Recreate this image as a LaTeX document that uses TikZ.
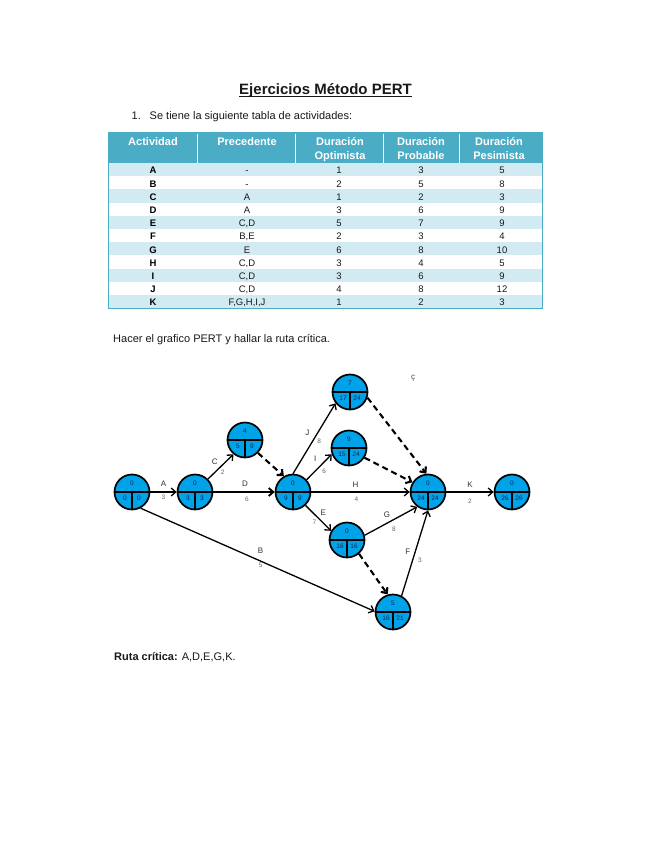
\documentclass[tikz,border=0pt]{standalone}
\usepackage{fontspec}
\setmainfont{Liberation Sans}
\usetikzlibrary{arrows.meta}
\definecolor{hdr}{RGB}{75,172,198}
\definecolor{stripe}{RGB}{210,234,241}
\definecolor{nodeblue}{RGB}{0,162,232}
\definecolor{ink}{RGB}{25,25,25}
\definecolor{ntxt}{RGB}{20,35,80}
\newcommand\PertNode[6]{%
  \node[pert] (#1) at (#2,#3) {};
  \draw[pertdiv] (#1.west) -- (#1.east) (#1.center) -- (#1.south);
  \node[pnum] (#1-t) at ([shift={(0,-9)}]#1.center) {#4};
  \node[pnum] (#1-l) at ([shift={(-7,6.5)}]#1.center) {#5};
  \node[pnum] (#1-r) at ([shift={(7,6.5)}]#1.center) {#6};
}
\tikzset{
  pert/.style={circle, draw=black, line width=1.7pt, fill=nodeblue, minimum size=35pt, inner sep=0pt},
  pertdiv/.style={line width=1.5pt},
  pnum/.style={font=\fontsize{6.5}{6.5}\selectfont, text=ntxt, inner sep=0pt},
  act/.style={-{Straight Barb[length=4.5pt,width=8pt]}, line width=1.3pt},
  dummy/.style={act, line width=2.1pt, dash pattern=on 6pt off 4pt},
  elab/.style={font=\fontsize{8}{8}\selectfont, text=black!80, inner sep=0pt},
  enum/.style={font=\fontsize{6.5}{6.5}\selectfont, text=black!60, inner sep=0pt},
  txt/.style={anchor=base west, inner sep=0pt, text=ink, font=\fontsize{11}{11}\selectfont},
  hcell/.style={anchor=base, inner sep=0pt, text=white, font=\fontsize{11}{11}\selectfont\bfseries},
  cell/.style={anchor=base, inner sep=0pt, text=ink, font=\fontsize{9.5}{9.5}\selectfont},
  cellb/.style={cell, font=\fontsize{9.5}{9.5}\selectfont\bfseries, text=black},
}
\begin{document}
\begin{tikzpicture}[x=1pt,y=-1pt]
\fill[white] (0,0) rectangle (655,848);
\useasboundingbox (0,0) rectangle (655,848);

% title
\node[anchor=base, inner sep=0pt, text=ink, font=\fontsize{15}{15}\selectfont\bfseries] (title) at (325.5,94.5) {Ejercicios Método PERT};
\draw[line width=0.9pt, ink] ([yshift=-1.8pt]title.base west) -- ([yshift=-1.8pt]title.base east);

\node[txt] (num1) at (131.5,120) {1.};
\node[txt] (intro) at (149.5,120) {Se tiene la siguiente tabla de actividades:};

% table
\fill[hdr] (108,133) rectangle (542,163);
\foreach \k in {0,2,...,10} {
  \fill[stripe] (108,{163+13.2*\k}) rectangle (542,{163+13.2*(\k+1)});
}
\foreach \xx in {197,295,383,459} {
  \draw[white, line width=1pt] (\xx,133) -- (\xx,163);
}
\draw[hdr, line width=1pt] (108,133) rectangle (542,308.2);

\node[hcell] (h1) at (153,146) {Actividad};
\node[hcell] (h2) at (247,146) {Precedente};
\node[hcell] (h3a) at (340,146) {Duración};
\node[hcell] (h3b) at (340,159) {Optimista};
\node[hcell] (h4a) at (421,146) {Duración};
\node[hcell] (h4b) at (421,159) {Probable};
\node[hcell] (h5a) at (499,146) {Duración};
\node[hcell] (h5b) at (499,159) {Pesimista};

\foreach \a/\p/\o/\m/\s [count=\i from 0] in {A/-/1/3/5, B/-/2/5/8, C/A/1/2/3, D/A/3/6/9, E/{C,D}/5/7/9, F/{B,E}/2/3/4, G/E/6/8/10, H/{C,D}/3/4/5, I/{C,D}/3/6/9, J/{C,D}/4/8/12, K/{F,G,H,I,J}/1/2/3} {
  \pgfmathsetmacro\yb{163+13.2*\i+10.8}
  \node[cellb] (ca\i) at (153,\yb) {\a};
  \node[cell] (cp\i) at (247,\yb) {\p};
  \node[cell] (co\i) at (339,\yb) {\o};
  \node[cell] (cm\i) at (421,\yb) {\m};
  \node[cell] (cs\i) at (502,\yb) {\s};
}

\node[txt] (hacer) at (113,342.5) {Hacer el grafico PERT y hallar la ruta crítica.};

% PERT nodes
\PertNode{n1}{132}{492}{0}{0}{0}
\PertNode{n2}{195}{492}{0}{3}{3}
\PertNode{n3}{293}{492}{0}{9}{9}
\PertNode{n4}{245}{440}{4}{5}{9}
\PertNode{n7}{350}{392}{7}{17}{24}
\PertNode{n9}{349}{448}{9}{15}{24}
\PertNode{n8}{428}{492}{0}{24}{24}
\PertNode{n10}{512}{492}{0}{26}{26}
\PertNode{n6}{347}{540}{0}{16}{16}
\PertNode{n5}{393}{612}{5}{16}{21}

% activities
\draw[act] (n1.east) -- node[elab, midway, shift={(0,-8)}] (lA) {A} node[enum, midway, shift={(0,5)}] (dA) {3} (n2.west);
\draw[act] (n2.45) -- node[elab, midway, shift={(-6,-5)}] (lC) {C} node[enum, midway, shift={(2,6)}] (dC) {2} (n4.231);
\draw[act, line width=1.9pt] (n2.east) -- node[elab, midway, shift={(1,-8)}] (lD) {D} node[enum, midway, shift={(3,7)}] (dD) {6} (n3.west);
\draw[act] (n3.90) -- node[elab, midway, shift={(-7,-6)}] (lJ) {J} node[enum, midway, shift={(5,3)}] (dJ) {8} (n7.218);
\draw[act] (n3.42) -- node[elab, midway, shift={(-4,-8)}] (lI) {I} node[enum, midway, shift={(5,4)}] (dI) {6} (n9.200);
\draw[act] (n3.east) -- node[elab, midway, shift={(-5,-7)}] (lH) {H} node[enum, midway, shift={(-4,7)}] (dH) {4} (n8.west);
\draw[act] (n3.-47) -- node[elab, midway, shift={(5,-5)}] (lE) {E} node[enum, midway, shift={(-4,4)}] (dE) {7} (n6.150);
\draw[act] (n6.15) -- node[elab, midway, shift={(-4,-6)}] (lG) {G} node[enum, midway, shift={(3,8)}] (dG) {8} (n8.234);
\draw[act] (n5.62) -- node[elab, midway, shift={(-7,-1)}] (lF) {F} node[enum, midway, shift={(5,7)}] (dF) {3} (n8.south);
\draw[act] (n1.-62) -- node[elab, midway, shift={(3,-9)}] (lB) {B} node[enum, midway, shift={(3,6)}] (dB) {5} (n5.178);
\draw[act] (n8.east) -- node[elab, midway, shift={(0,-7)}] (lK) {K} node[enum, midway, shift={(0,9)}] (dK) {2} (n10.west);

% dummies
\draw[dummy] (n4.-45) -- (n3.120);
\draw[dummy] (n7.-18) -- (n8.95);
\draw[dummy] (n9.-32) -- (n8.148);
\draw[dummy] (n6.-49) -- (n5.107);

\node[inner sep=0pt, text=black!70, font=\fontsize{8}{8}\selectfont] (mark) at (413,378) {ç};

\node[txt] (ruta) at (114,660) {\textbf{Ruta crítica:} A,D,E,G,K.};
\end{tikzpicture}
\end{document}
